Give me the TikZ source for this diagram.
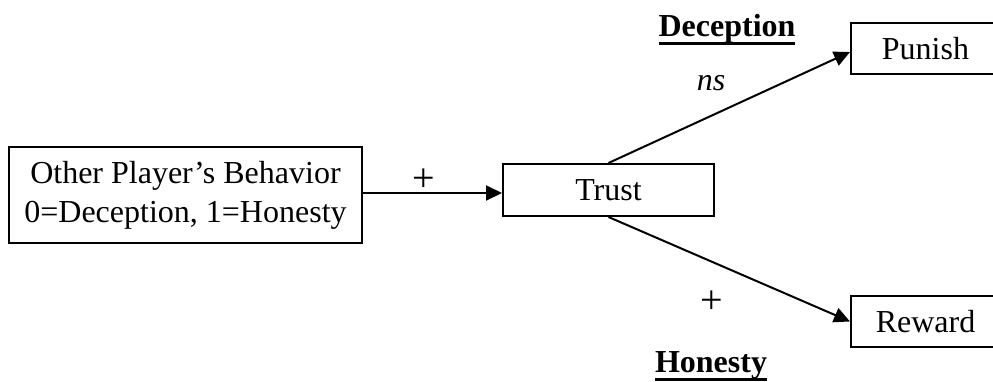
\documentclass[tikz,border=0pt]{standalone}
\usepackage{fontspec}
\setmainfont{Liberation Serif}
\usetikzlibrary{arrows.meta}
\newcommand\myul[1]{\setbox0=\hbox{#1}\leavevmode\rlap{\rule[-8.5pt]{\wd0}{2.4pt}}\box0}
\begin{document}
\begin{tikzpicture}[x=1pt,y=-1pt,
  txt/.style={font=\fontsize{32}{39}\selectfont, inner sep=0pt},
  plus/.style={font=\fontsize{40}{40}\selectfont, inner sep=0pt},
  boxnode/.style={draw, line width=2pt, txt, align=center},
  arr/.style={line width=2pt, -{Triangle[length=16pt,width=15pt]}}]
\useasboundingbox (0,0) rectangle (993,381);
\node[boxnode, minimum width=353pt, minimum height=96pt] (L) at (185.5,195)
  {Other Player’s Behavior\\0=Deception, 1=Honesty};
\node[boxnode, minimum width=211pt, minimum height=52pt] (T) at (608.5,190) {Trust};
\node[boxnode, minimum width=149pt, minimum height=51pt] (P) at (925.5,48.5) {Punish};
\node[boxnode, minimum width=149pt, minimum height=51pt] (R) at (925.5,321.5) {Reward};
\draw[arr] ([yshift=2pt]L.east) -- ([yshift=2pt]L.east -| T.west);
\draw[arr] (T.north) -- ([yshift=-3.5pt]P.west);
\draw[arr] (T.south) -- (R.west);
\node[plus] (plus1) at (424,180) {+};
\node[txt] (ns) at (711,83) {\itshape ns};
\node[txt, anchor=base] (dec) at (727,36) {\myul{\bfseries Deception}};
\node[plus] (plus2) at (712,302) {+};
\node[txt, anchor=base] (hon) at (711,372) {\myul{\bfseries Honesty}};
\end{tikzpicture}
\end{document}
